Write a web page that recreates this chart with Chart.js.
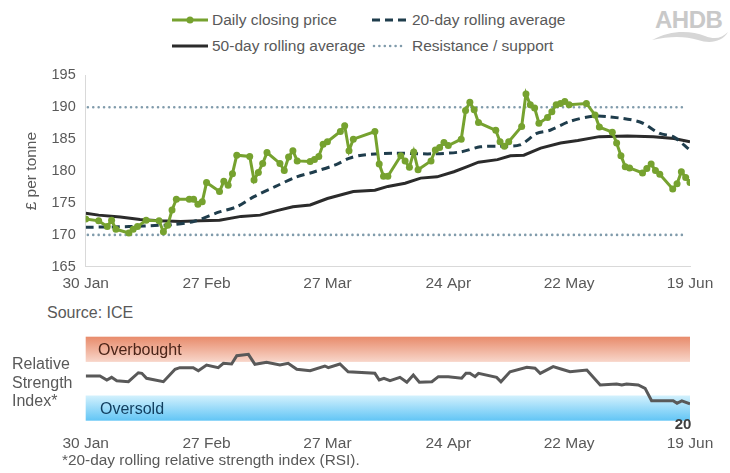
<!DOCTYPE html>
<html>
<head>
<meta charset="utf-8">
<script src="https://cdn.jsdelivr.net/npm/chart.js@4.4.0/dist/chart.umd.min.js"></script>
<style>
  body { margin: 0; background: #fff; font-family: 'Liberation Sans', Arial, sans-serif; color: #595959; }
  #wrap { position: relative; width: 730px; height: 473px; overflow: hidden; }
  .abs { position: absolute; white-space: nowrap; }
  .leg { font-size: 15.5px; line-height: 18px; }
  canvas { position: absolute; left: 0; }
</style>
</head>
<body>
<div id="wrap">
  <!-- legend -->
  <svg class="abs" style="left:172px;top:11px" width="38" height="18"><line x1="0" y1="9" x2="36" y2="9" stroke="#76A22F" stroke-width="3"/><circle cx="18" cy="9" r="3.5" fill="#76A22F"/></svg>
  <div class="abs leg" style="left:212px;top:11px">Daily closing price</div>
  <svg class="abs" style="left:372px;top:11px" width="38" height="18"><line x1="0" y1="9" x2="34" y2="9" stroke="#1F3D4C" stroke-width="3" stroke-dasharray="8,5"/></svg>
  <div class="abs leg" style="left:412px;top:11px">20-day rolling average</div>
  <svg class="abs" style="left:172px;top:37px" width="38" height="18"><line x1="0" y1="9" x2="36" y2="9" stroke="#2B2B2B" stroke-width="3"/></svg>
  <div class="abs leg" style="left:212px;top:37px">50-day rolling average</div>
  <svg class="abs" style="left:372px;top:37px" width="38" height="18"><line x1="2" y1="9" x2="34" y2="9" stroke="#809BAB" stroke-width="2.6" stroke-linecap="round" stroke-dasharray="0,5.4"/></svg>
  <div class="abs leg" style="left:412px;top:37px">Resistance / support</div>

  <!-- logo -->
  <div class="abs" style="left:655px;top:6px;font-size:24px;font-weight:bold;color:#C9C9C9;letter-spacing:-0.5px">AHDB</div>
  <svg class="abs" style="left:650px;top:28px" width="80" height="16"><path d="M2 12 C 20 2, 40 2, 55 8 C 65 12, 72 10, 78 4 C 72 14, 60 16, 48 12 C 35 8, 20 8, 2 12 Z" fill="#D6D6D6"/></svg>

  <canvas id="priceChart" width="730" height="300" style="top:0"></canvas>
  <div class="abs" style="left:47px;top:304px;font-size:16px">Source: ICE</div>

  <canvas id="rsiChart" width="730" height="153" style="top:320px"></canvas>
  <div class="abs" style="left:98px;top:341px;font-size:16px;color:#4B2418">Overbought</div>
  <div class="abs" style="left:100px;top:400px;font-size:16px;color:#103D5E">Oversold</div>
  <div class="abs" style="left:12px;top:355px;font-size:16px;line-height:18.5px">Relative<br>Strength<br>Index*</div>
  <div class="abs" style="left:62px;top:451px;font-size:15.4px">*20-day rolling relative strength index (RSI).</div>
</div>

<script>
// x positions are days counted from 30 Jan
const tickLabels = ['30 Jan', '27 Feb', '27 Mar', '24 Apr', '22 May', '19 Jun'];

const priceDays = [0, 3, 5, 6, 7, 10, 11, 12, 14, 17, 18, 19, 20, 21, 24, 25, 26, 27, 28, 31,
  32, 33, 34, 35, 38, 39, 40, 41, 42, 45, 46, 47, 48, 49, 52, 53, 54, 55, 56, 59,
  60, 61, 62, 67, 68, 69, 70, 73, 74, 75, 76, 77, 80, 81, 82, 83, 84, 87, 88, 89,
  90, 91, 95, 96, 97, 98, 101, 102, 103, 104, 105, 107, 108, 109, 110, 111, 112, 116, 118, 119,
  122, 123, 124, 125, 126, 129, 130, 131, 132, 133, 136, 137, 138, 139, 140];
const priceValues = [172.5, 172.2, 171.3, 172.3, 170.9, 170.3, 170.9, 171.3, 172.3, 172.2, 170.5, 171.5, 173.9, 175.6, 175.6, 175.6, 174.8, 175.2, 178.2, 176.8,
  178.4, 177.8, 179.6, 182.5, 182.3, 178.6, 179.8, 181.2, 182.9, 181.2, 180.1, 182.2, 183.2, 181.6, 181.5, 181.8, 182.3, 184.2, 184.6, 186.2,
  187.1, 183.2, 185.0, 186.2, 181.1, 179.2, 179.2, 182.4, 181.6, 180.6, 183.0, 180.2, 181.6, 183.3, 183.7, 184.5, 184.0, 185.0, 189.5, 190.8,
  189.6, 187.6, 186.4, 184.6, 183.9, 184.6, 187.0, 192.1, 190.4, 189.9, 187.5, 188.4, 189.3, 190.4, 190.6, 190.9, 190.4, 190.6, 188.8, 186.9,
  186.1, 184.4, 182.4, 180.7, 180.5, 179.7, 180.4, 181.1, 180.1, 179.5, 177.2, 178.0, 179.9, 179.0, 178.2];

const avg20Days = [0, 10, 17, 20, 25, 31, 35, 39, 44, 48.5, 53, 58, 61, 64, 71, 80, 86.8, 91.4, 96, 100.6,
  104.5, 107.6, 112.2, 117.6, 121.5, 128.4, 133, 136.1, 140];
const avg20Values = [171.2, 171.3, 171.5, 171.6, 172.1, 173.6, 174.4, 176.0, 177.6, 179.0, 179.9, 181.0, 182.0, 182.5, 182.8, 182.7, 183.0, 183.8, 183.9, 184.1,
  185.9, 186.4, 187.8, 188.6, 188.5, 187.7, 185.9, 185.4, 183.3];

const avg50Days = [0, 3, 8, 12.6, 17, 22, 26.5, 31, 36, 40.4, 44.3, 48, 52, 56, 62, 67, 70, 74, 77.6, 81.4,
  85.3, 88.4, 91, 95.4, 98.4, 101.5, 105.4, 110, 114, 119, 125.5, 131.5, 136.3, 140];
const avg50Values = [173.4, 173.1, 172.8, 172.4, 172.2, 172.1, 172.2, 172.3, 172.9, 173.1, 173.8, 174.4, 174.7, 175.7, 176.8, 177.0, 177.6, 178.1, 178.9, 179.1,
  179.9, 180.7, 181.4, 181.8, 182.4, 182.5, 183.6, 184.4, 184.8, 185.4, 185.5, 185.4, 185.1, 184.6];

const resistanceDays = [0.5, 139.3];
const resistanceLevel = 190;
const supportLevel = 170;

const rsiDays = [0, 3.3, 4.9, 6, 7.2, 9.9, 12.2, 13, 14.1, 18, 20.7, 21.8, 24.9, 26.1, 28, 30.7, 31.9, 33.8, 35, 37.7,
  39.2, 41.9, 45, 46.9, 48.9, 52, 55.4, 56.2, 58.9, 60.8, 67, 68, 69.1, 70.5, 72.8, 74.4, 75.9, 77.3, 80.2, 81.7,
  84, 87.1, 88.1, 89, 90.2, 91, 95.2, 96.2, 98.3, 102.2, 104.1, 105.3, 108.3, 110.3, 112.2, 116.1, 119.2, 123, 124.2, 125.3,
  128, 129.6, 131.1, 136.1, 137, 138.1, 140];
const rsiValues = [53.2, 53.2, 48.5, 51.6, 47.6, 46.4, 57.1, 56.4, 50.5, 46.4, 61.2, 63.1, 63.1, 59.5, 66.3, 63.1, 68.3, 67.5, 77.4, 79,
  67.1, 69.5, 66.3, 68.3, 61.2, 59.5, 65.1, 63.1, 67.5, 58.3, 56.4, 48.5, 50.5, 47.6, 51.6, 45.7, 54.4, 45.7, 46.4, 52.4,
  52.4, 50.5, 56.4, 56.4, 52.4, 56.4, 51.6, 46.4, 58.3, 63.6, 62.4, 56.4, 64.3, 61.2, 58.3, 60.4, 42.5, 43.7, 42.5, 43.7,
  42.5, 38.6, 23.8, 23.8, 20.7, 23.5, 20];

const overbought = [70, 100];
const oversold = [0, 30];

const FONT = "'Liberation Sans', Arial, sans-serif";
const GREY = '#595959';

function pts(xs, ys) {
  return xs.map((x, i) => ({ x: x, y: ys[i] }));
}

const xAxis = {
  type: 'linear',
  min: 0,
  max: 140,
  grid: { display: false, drawTicks: false },
  ticks: {
    stepSize: 28,
    maxRotation: 0,
    autoSkip: false,
    color: GREY,
    font: { family: FONT, size: 15.5 },
    callback: v => tickLabels[Math.round(v / 28)]
  }
};

new Chart(document.getElementById('priceChart'), {
  type: 'line',
  data: {
    datasets: [
      {
        label: 'Daily closing price',
        data: pts(priceDays, priceValues),
        borderColor: '#76A22F',
        backgroundColor: '#76A22F',
        borderWidth: 3,
        pointRadius: 3.5,
        pointBorderWidth: 0,
        pointBackgroundColor: '#76A22F'
      },
      {
        label: '20-day rolling average',
        data: pts(avg20Days, avg20Values),
        borderColor: '#1F3D4C',
        borderWidth: 3,
        borderDash: [8, 5],
        pointRadius: 0,
        tension: 0.3
      },
      {
        label: '50-day rolling average',
        data: pts(avg50Days, avg50Values),
        borderColor: '#2B2B2B',
        borderWidth: 3,
        pointRadius: 0
      },
      {
        label: 'Resistance / support',
        data: pts(resistanceDays, resistanceDays.map(() => resistanceLevel)),
        borderColor: '#809BAB',
        borderWidth: 2.6,
        borderDash: [0, 5.4],
        borderCapStyle: 'round',
        pointRadius: 0
      },
      {
        label: 'Support',
        data: pts(resistanceDays, resistanceDays.map(() => supportLevel)),
        borderColor: '#809BAB',
        borderWidth: 2.6,
        borderDash: [0, 5.4],
        borderCapStyle: 'round',
        pointRadius: 0
      }
    ]
  },
  options: {
    responsive: false,
    animation: false,
    layout: { padding: { left: 22, top: 75.4, right: 40, bottom: 0 } },
    plugins: { legend: { display: false }, tooltip: { enabled: false } },
    scales: {
      x: Object.assign({}, xAxis, {
        border: { display: true, color: '#D9D9D9', width: 1 },
        ticks: Object.assign({}, xAxis.ticks, { padding: 8 }),
        afterFit: s => { s.height = 33.2; }
      }),
      y: {
        min: 165,
        max: 195,
        grid: { display: false, drawTicks: false },
        border: { display: true, color: '#D9D9D9', width: 1 },
        ticks: { stepSize: 5, padding: 10, color: GREY, font: { family: FONT, size: 14.5 } },
        title: { display: true, text: '£ per tonne', color: GREY, padding: 0, font: { family: FONT, size: 15.5 } },
        afterFit: s => { s.width = 63.7; }
      }
    }
  }
});

// gradient bands for overbought / oversold zones
const bandsPlugin = {
  id: 'bands',
  beforeDatasetsDraw(chart) {
    const { ctx, chartArea, scales: { y } } = chart;
    function band(range, c1, c2) {
      const top = y.getPixelForValue(range[1]);
      const bottom = y.getPixelForValue(range[0]);
      const g = ctx.createLinearGradient(0, top, 0, bottom);
      g.addColorStop(0, c1);
      g.addColorStop(1, c2);
      ctx.save();
      ctx.fillStyle = g;
      ctx.fillRect(chartArea.left, top, chartArea.right - chartArea.left, bottom - top);
      ctx.restore();
    }
    band(overbought, '#E88B6B', '#F8D6CA');
    band(oversold, '#D3F1FD', '#62C5F5');
  }
};

// value label under the last RSI point
const lastLabelPlugin = {
  id: 'lastLabel',
  afterDatasetsDraw(chart) {
    const meta = chart.getDatasetMeta(0);
    const pt = meta.data[meta.data.length - 1];
    const ctx = chart.ctx;
    ctx.save();
    ctx.font = 'bold 15px ' + FONT;
    ctx.fillStyle = '#404040';
    ctx.textAlign = 'center';
    ctx.textBaseline = 'middle';
    ctx.fillText(String(Math.round(rsiValues[rsiValues.length - 1])), pt.x - 7, pt.y + 21);
    ctx.restore();
  }
};

new Chart(document.getElementById('rsiChart'), {
  type: 'line',
  data: {
    datasets: [{
      label: 'RSI',
      data: pts(rsiDays, rsiValues),
      borderColor: '#595959',
      borderWidth: 3,
      pointRadius: 0
    }]
  },
  options: {
    responsive: false,
    animation: false,
    layout: { padding: { left: 85.7, top: 16.7, right: 40, bottom: 0 } },
    plugins: { legend: { display: false }, tooltip: { enabled: false } },
    scales: {
      x: Object.assign({}, xAxis, {
        border: { display: false },
        ticks: Object.assign({}, xAxis.ticks, { padding: 14 }),
        afterFit: s => { s.height = 52.3; }
      }),
      y: { min: 0, max: 100, display: false }
    }
  },
  plugins: [bandsPlugin, lastLabelPlugin]
});
</script>
</body>
</html>
